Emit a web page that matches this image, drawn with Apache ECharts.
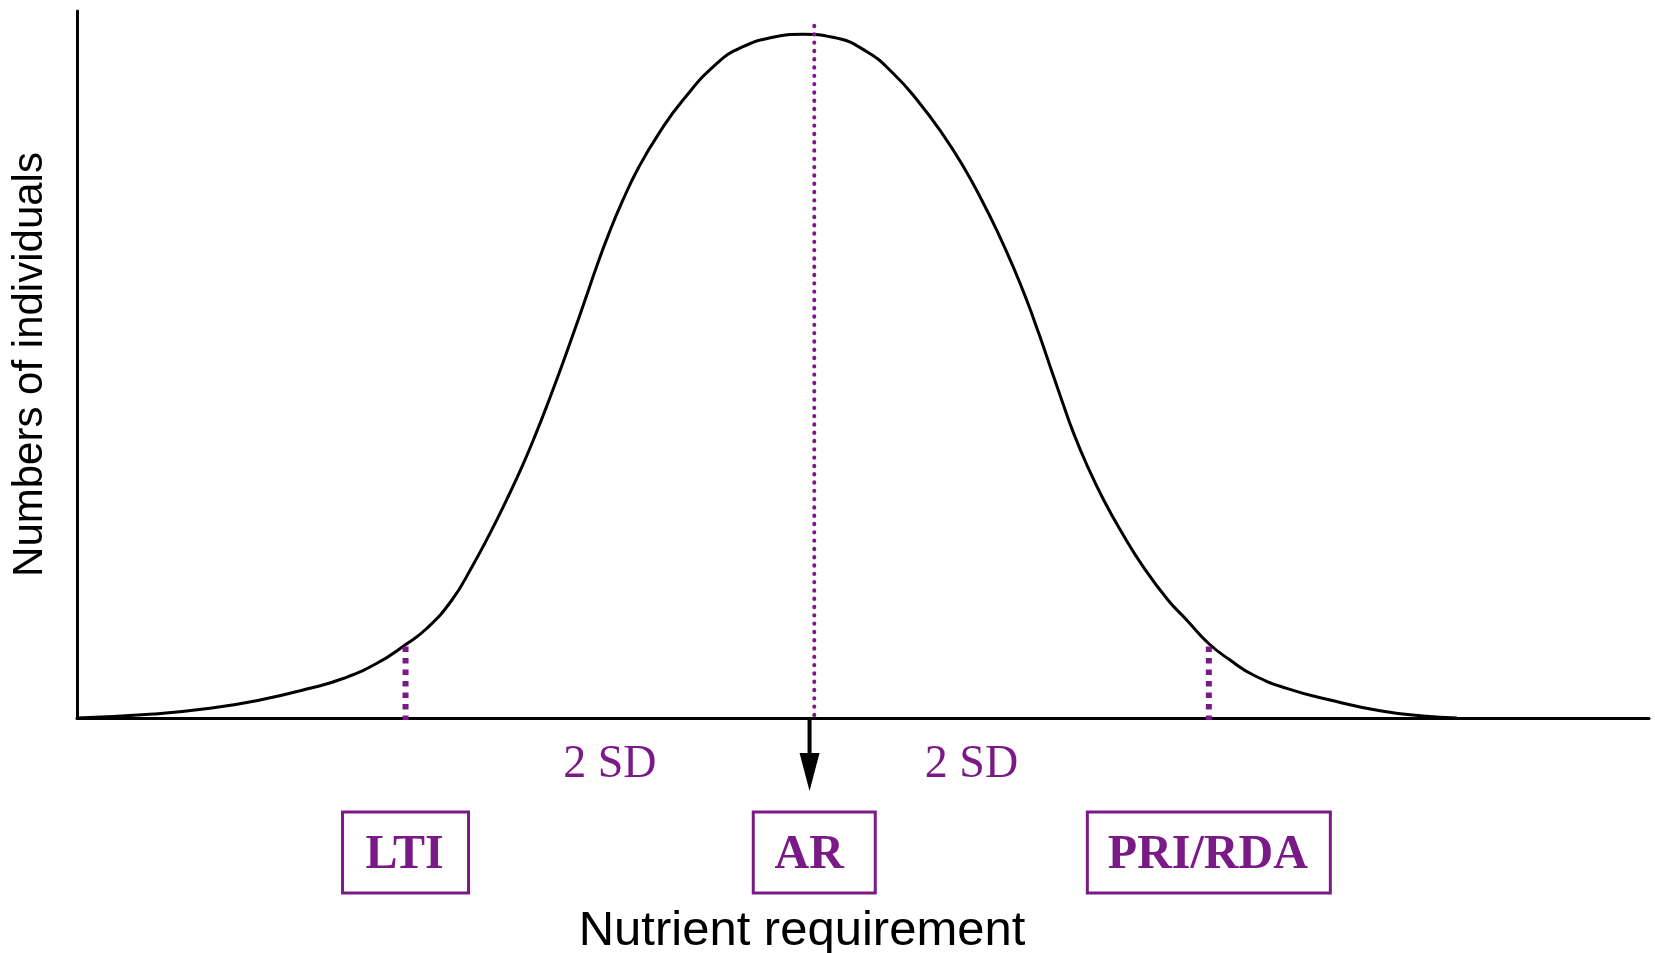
<!DOCTYPE html>
<html>
<head>
<meta charset="utf-8">
<title>Nutrient requirement</title>
<script src="https://cdn.jsdelivr.net/npm/echarts@6/dist/echarts.min.js"></script>
<style>
html, body { margin: 0; padding: 0; background: #fff; }
#chart { width: 1655px; height: 953px; }
</style>
</head>
<body>
<div id="chart"></div>
<script>
// distribution curve (x: requirement 0-100, y: individuals 0-100)
var requirement = [0, 4.88, 8.46, 11.64, 14.82, 16.97, 19.08, 20.87, 22.26,
	23.85, 25.13, 26.27, 27.32, 28.31, 29.20, 30.03, 30.82, 31.58, 32.32, 33.05, 33.84, 34.73, 35.75, 37.02, 38.55,
	40.71, 42.37, 44.27, 46.18, 48.09, 50.25, 51.91,
	53.44, 55.03, 56.39, 57.55, 58.60, 59.55, 60.41, 61.18, 61.91, 62.64, 63.40, 64.29, 65.31, 66.49, 67.82, 69.40,
	70.59, 71.97, 73.35, 74.83, 76.95, 79.71, 82.89, 85.62, 87.79];
var individuals = [0, 0.57, 1.37, 2.55, 4.20, 5.62, 7.74, 10.33, 12.69,
	16.69, 21.40, 26.12, 30.83, 35.55, 40.26, 44.98, 49.69, 54.41, 59.12, 63.84, 68.55, 73.27, 77.98, 82.70, 87.41,
	92.60, 94.95, 96.28, 96.70, 96.28, 94.24, 91.19,
	87.41, 82.70, 77.98, 73.27, 68.55, 63.84, 59.12, 54.41, 49.69, 44.98, 40.26, 35.55, 30.83, 26.12, 21.40, 16.69,
	13.86, 10.57, 8.20, 6.08, 4.20, 2.55, 1.03, 0.28, 0];

// reference values marked on the axis
var refNames = ['LTI', 'AR', 'PRI/RDA'];
var refX = [20.9, 46.9, 72.0];
var refTop = [10.1, 97.9, 10.1];
var sdLabels = ['2 SD', '2 SD'];
var sdX = [33.9, 56.9];
var arrowX = 46.6;

var purple = '#7a1a87';

var curveData = [];
for (var i = 0; i < requirement.length; i++) {
	curveData.push([requirement[i], individuals[i]]);
}

var series = [{
	type: 'line',
	data: curveData,
	smooth: 0.5,
	symbol: 'none',
	lineStyle: { color: '#000', width: 3 },
	z: 3
}];

for (var i = 0; i < refNames.length; i++) {
	var isMean = refNames[i] == 'AR';
	series.push({
		type: 'line',
		name: refNames[i],
		// drawn top-down so the dash pattern starts at the curve
		data: [[refX[i], refTop[i]], [refX[i], isMean ? 0 : -0.3]],
		symbol: 'none',
		clip: false,
		lineStyle: isMean
			? { color: purple, width: 4, type: [0.4, 7.9], cap: 'round' }
			: { color: purple, width: 6, type: [5.5, 6] },
		z: 4
	});
}

var option = {
	animation: false,
	backgroundColor: '#fff',
	grid: {
		left: 77,
		right: 6,
		top: 11,
		bottom: 235,
		containLabel: false,
		outerBoundsMode: 'none'
	},
	xAxis: {
		type: 'value',
		min: 0,
		max: 100,
		axisLine: { lineStyle: { color: '#000', width: 3 } },
		axisTick: { show: false },
		axisLabel: { show: false },
		splitLine: { show: false }
	},
	yAxis: {
		type: 'value',
		min: 0,
		max: 100,
		name: 'Numbers of individuals',
		nameLocation: 'middle',
		nameGap: 26,
		nameTextStyle: { fontFamily: 'Liberation Sans', fontSize: 42, color: '#000' },
		axisLine: { show: true, lineStyle: { color: '#000', width: 3 } },
		axisTick: { show: false },
		axisLabel: { show: false },
		splitLine: { show: false }
	},
	series: series
};

var chart = echarts.init(document.getElementById('chart'));
chart.setOption(option);

function px(v) {
	return chart.convertToPixel({ xAxisIndex: 0 }, v);
}

var boxWidths = [126, 122, 243];
var graphic = [];

for (var i = 0; i < sdLabels.length; i++) {
	graphic.push({
		type: 'text',
		x: px(sdX[i]),
		y: 765,
		style: {
			text: sdLabels[i],
			fill: purple,
			fontFamily: 'Liberation Serif',
			fontSize: 46,
			align: 'center',
			verticalAlign: 'middle'
		}
	});
}

for (var i = 0; i < refNames.length; i++) {
	var cx = px(refX[i]);
	graphic.push({
		type: 'rect',
		shape: { x: cx - boxWidths[i] / 2, y: 812, width: boxWidths[i], height: 81 },
		style: { fill: 'none', stroke: purple, lineWidth: 3 }
	});
	graphic.push({
		type: 'text',
		x: refNames[i] == 'AR' ? cx - 5 : cx - 1,
		y: 856,
		style: {
			text: refNames[i],
			fill: purple,
			fontFamily: 'Liberation Serif',
			fontWeight: 'bold',
			fontSize: 48,
			align: 'center',
			verticalAlign: 'middle'
		}
	});
}

// arrow under the average requirement
var ax = px(arrowX);
graphic.push({
	type: 'line',
	shape: { x1: ax, y1: 718, x2: ax, y2: 760 },
	style: { stroke: '#000', lineWidth: 4 }
});
graphic.push({
	type: 'polygon',
	shape: { points: [[ax - 10, 753], [ax + 10, 753], [ax, 791]] },
	style: { fill: '#000' }
});

graphic.push({
	type: 'text',
	x: 802,
	y: 931,
	style: {
		text: 'Nutrient requirement',
		fill: '#000',
		fontFamily: 'Liberation Sans',
		fontSize: 49,
		align: 'center',
		verticalAlign: 'middle'
	}
});

chart.setOption({ graphic: graphic });
</script>
</body>
</html>
